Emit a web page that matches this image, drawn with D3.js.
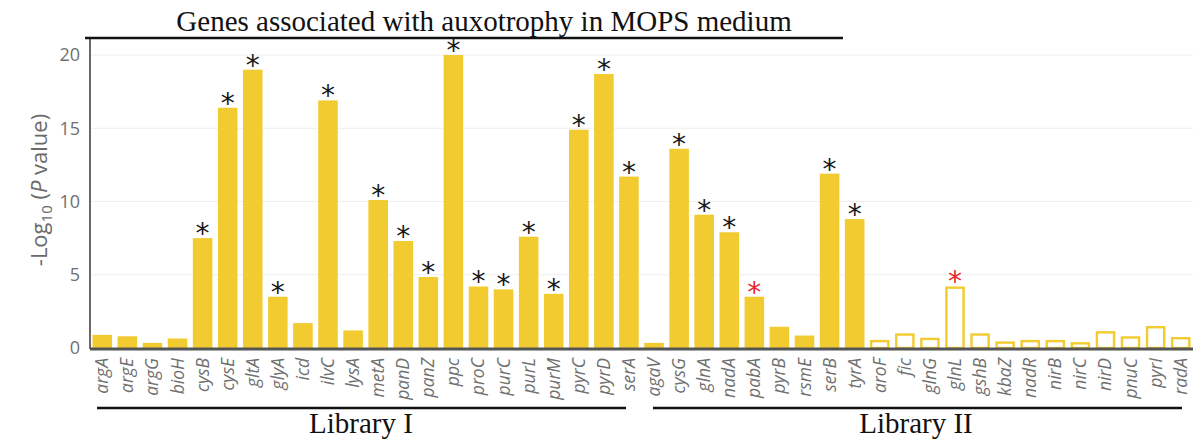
<!DOCTYPE html>
<html>
<head>
<meta charset="utf-8">
<script src="https://cdn.jsdelivr.net/npm/d3@7"></script>
<style>
  body { margin: 0; background: #fff; }
  svg { display: block; }
</style>
</head>
<body>
<svg id="chart" width="1196" height="439"></svg>
<script>
// genes, in plotting order
const libOneGenes = ['argA', 'argE', 'argG', 'bioH', 'cysB', 'cysE', 'gltA', 'glyA', 'icd', 'ilvC', 'lysA',
    'metA', 'panD', 'panZ', 'ppc', 'proC', 'purC', 'purL', 'purM', 'pyrC', 'pyrD', 'serA'];
const libTwoGenes = ['agaV', 'cysG', 'glnA', 'nadA', 'pabA', 'pyrB', 'rsmE', 'serB', 'tyrA',
    'aroF', 'fic', 'glnG', 'glnL', 'gshB', 'kbaZ', 'nadR', 'nirB', 'nirC', 'nirD', 'pnuC', 'pyrI', 'radA'];

// -log10(P)
const libOneValues = [0.9, 0.8, 0.35, 0.65, 7.5, 16.4, 19.0, 3.5, 1.7, 16.9, 1.2,
    10.1, 7.3, 4.85, 20.0, 4.2, 4.0, 7.6, 3.7, 14.9, 18.7, 11.7];
const libTwoValues = [0.35, 13.6, 9.1, 7.9, 3.5, 1.45, 0.85, 11.9, 8.8,
    0.55, 1.0, 0.7, 4.2, 1.0, 0.45, 0.55, 0.55, 0.4, 1.15, 0.8, 1.5, 0.75];

// significance marks: black = significant, red = the other marker
const blackStars = ['cysB', 'cysE', 'gltA', 'glyA', 'ilvC', 'metA', 'panD', 'panZ', 'ppc', 'proC', 'purC',
    'purL', 'purM', 'pyrC', 'pyrD', 'serA', 'cysG', 'glnA', 'nadA', 'serB', 'tyrA'];
const redStars = ['pabA', 'glnL'];

// library II genes drawn as hollow bars
const hollowGenes = ['aroF', 'fic', 'glnG', 'glnL', 'gshB', 'kbaZ', 'nadR', 'nirB', 'nirC', 'nirD', 'pnuC', 'pyrI', 'radA'];

const yTicks = [0, 5, 10, 15, 20];

const genes = libOneGenes.concat(libTwoGenes);
const values = libOneValues.concat(libTwoValues);
const rows = genes.map((g, i) => ({ gene: g, value: values[i] }));

const gold = '#f1cb2f';
const svg = d3.select('#chart');

const x = d3.scaleBand()
    .domain(genes)
    .range([90, 1193])
    .paddingInner(0.22)
    .paddingOuter(0.1);

const y = d3.scaleLinear()
    .domain([0, 20])
    .range([348, 55]);

// gridlines
svg.append('g')
    .selectAll('line')
    .data(yTicks.filter((t) => t > 0))
    .join('line')
    .attr('x1', 90)
    .attr('x2', 1193)
    .attr('y1', (d) => y(d))
    .attr('y2', (d) => y(d))
    .attr('stroke', '#eeeeee')
    .attr('stroke-width', 1);

// y axis
const yAxis = svg.append('g')
    .attr('transform', 'translate(90,0)')
    .call(d3.axisLeft(y).tickValues(yTicks).tickSize(0).tickPadding(10));
yAxis.select('.domain').remove();
yAxis.selectAll('text')
    .attr('font-family', 'Open Sans, sans-serif')
    .attr('font-size', 18)
    .attr('fill', '#707070');

svg.append('line')
    .attr('x1', 90)
    .attr('x2', 90)
    .attr('y1', 37)
    .attr('y2', 349)
    .attr('stroke', '#6a6a6a')
    .attr('stroke-width', 2);

// y title
const yTitle = svg.append('text')
    .attr('transform', 'translate(47,190) rotate(-90)')
    .attr('text-anchor', 'middle')
    .attr('font-family', 'Open Sans, sans-serif')
    .attr('font-size', 22)
    .attr('fill', '#6a6a6a');
yTitle.append('tspan').text('-Log');
yTitle.append('tspan').attr('font-size', 15).attr('dy', 5).text('10');
yTitle.append('tspan').attr('dy', -5).text(' (');
yTitle.append('tspan').attr('font-style', 'italic').text('P');
yTitle.append('tspan').text(' value)');

// bars
svg.append('g')
    .selectAll('rect')
    .data(rows)
    .join('rect')
    .each(function (d)
    {
        const hollow = hollowGenes.includes(d.gene);
        const bar = d3.select(this);
        if (hollow)
        {
            bar.attr('x', x(d.gene) + 1.2)
                .attr('width', x.bandwidth() - 2.4)
                .attr('y', y(d.value) + 1.2)
                .attr('height', Math.max(0, y(0) - y(d.value) - 1.2))
                .attr('fill', '#fff')
                .attr('stroke', gold)
                .attr('stroke-width', 2.4);
        }
        else
        {
            bar.attr('x', x(d.gene))
                .attr('width', x.bandwidth())
                .attr('y', y(d.value))
                .attr('height', y(0) - y(d.value))
                .attr('fill', gold);
        }
    });

// asterisks, centred ~11px above the bar top
svg.append('g')
    .selectAll('text')
    .data(rows.filter((d) => blackStars.includes(d.gene) || redStars.includes(d.gene)))
    .join('text')
    .attr('x', (d) => x(d.gene) + x.bandwidth() / 2)
    .attr('y', (d) => y(d.value) + 5)
    .attr('text-anchor', 'middle')
    .attr('font-family', 'DejaVu Sans, sans-serif')
    .attr('font-size', 28)
    .attr('fill', (d) => (redStars.includes(d.gene) ? '#e8262b' : '#1a1a1a'))
    .text('*');

// x axis line
svg.append('line')
    .attr('x1', 90)
    .attr('x2', 1193)
    .attr('y1', 349)
    .attr('y2', 349)
    .attr('stroke', '#555')
    .attr('stroke-width', 3);

// gene labels
svg.append('g')
    .selectAll('text')
    .data(genes)
    .join('text')
    .attr('transform', (d) => `translate(${x(d) + x.bandwidth() / 2 + 6},358) rotate(-90)`)
    .attr('text-anchor', 'end')
    .attr('font-family', 'Open Sans, sans-serif')
    .attr('font-style', 'italic')
    .attr('font-size', 17.5)
    .attr('fill', '#707070')
    .text((d) => d);

// top title with rule
svg.append('line')
    .attr('x1', 85)
    .attr('x2', 843)
    .attr('y1', 38)
    .attr('y2', 38)
    .attr('stroke', '#111')
    .attr('stroke-width', 2.5);
svg.append('text')
    .attr('x', 484)
    .attr('y', 31)
    .attr('text-anchor', 'middle')
    .attr('font-family', 'Liberation Serif, serif')
    .attr('font-size', 29)
    .attr('fill', '#111')
    .text('Genes associated with auxotrophy in MOPS medium');

// library brackets
const libs = [
    { name: 'Library I', x1: 97, x2: 626, cx: 361 },
    { name: 'Library II', x1: 653, x2: 1182, cx: 916 },
];
libs.forEach((lib) =>
{
    svg.append('line')
        .attr('x1', lib.x1)
        .attr('x2', lib.x2)
        .attr('y1', 408)
        .attr('y2', 408)
        .attr('stroke', '#111')
        .attr('stroke-width', 2.5);
    svg.append('text')
        .attr('x', lib.cx)
        .attr('y', 433)
        .attr('text-anchor', 'middle')
        .attr('font-family', 'Liberation Serif, serif')
        .attr('font-size', 29)
        .attr('fill', '#111')
        .text(lib.name);
});
</script>
</body>
</html>
